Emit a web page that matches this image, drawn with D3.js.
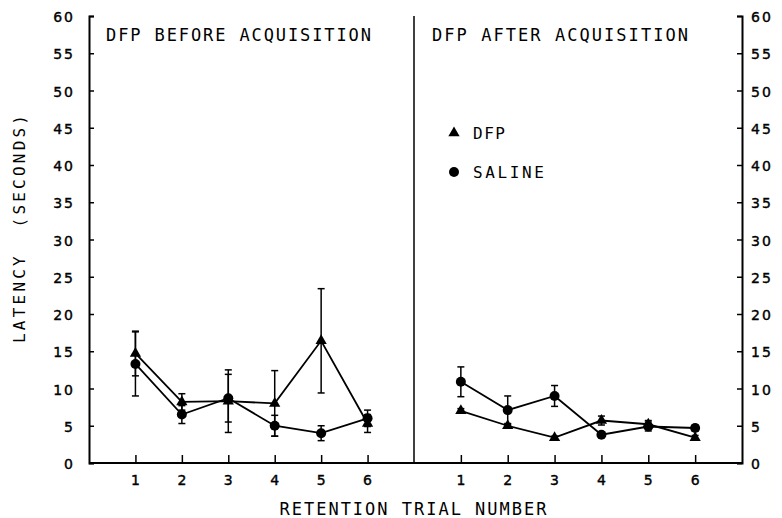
<!DOCTYPE html>
<html>
<head>
<meta charset="utf-8">
<script src="https://cdn.jsdelivr.net/npm/d3@7"></script>
<style>
  body { margin: 0; background: #fff; }
  svg text { fill: #000; }
</style>
</head>
<body>
<div id="chart"></div>
<script>
// retention trials 1..6
const trials = [1, 2, 3, 4, 5, 6];
const yTicks = [0, 5, 10, 15, 20, 25, 30, 35, 40, 45, 50, 55, 60];

// DFP before acquisition
const beforeDfp = [14.7, 8.2, 8.3, 8.0, 16.4, 5.3];
const beforeDfpErr = [3.0, 1.1, 4.2, 4.4, 7.0, 1.2];
const beforeSaline = [13.3, 6.5, 8.7, 5.0, 4.0, 6.0];
const beforeSalineErr = [4.3, 1.2, 3.2, 1.4, 1.0, 1.1];

// DFP after acquisition
const afterDfp = [7.0, 5.0, 3.4, 5.7, 5.2, 3.4];
const afterDfpErr = [0.3, 0.3, 0.2, 0.6, 0.5, 0.3];
const afterSaline = [10.9, 7.1, 9.0, 3.8, 4.9, 4.7];
const afterSalineErr = [2.0, 1.9, 1.4, 0.3, 0.6, 0.4];

const width = 782, height = 518;
const mLeft = 89, mMid = 414, mRight = 742, mTop = 16, mBottom = 463;
const mono = "'DejaVu Sans Mono', monospace";
const sans = "'DejaVu Sans', sans-serif";

const svg = d3.select("#chart").append("svg")
  .attr("width", width)
  .attr("height", height);

const y = d3.scaleLinear().domain([0, 60]).range([mBottom, mTop]);

const panels = [
  { title: "DFP BEFORE ACQUISITION", x: d3.scaleLinear().domain([0, 7]).range([mLeft, mMid]),
    dfp: beforeDfp, dfpErr: beforeDfpErr, sal: beforeSaline, salErr: beforeSalineErr },
  { title: "DFP AFTER ACQUISITION", x: d3.scaleLinear().domain([0, 7]).range([mMid, mRight]),
    dfp: afterDfp, dfpErr: afterDfpErr, sal: afterSaline, salErr: afterSalineErr }
];

// y axes, ticks pointing inward
const yl = svg.append("g")
  .attr("transform", `translate(${mLeft},0)`)
  .call(d3.axisRight(y).tickValues(yTicks).tickSize(5).tickFormat(""));
const yr = svg.append("g")
  .attr("transform", `translate(${mRight},0)`)
  .call(d3.axisLeft(y).tickValues(yTicks).tickSize(5).tickFormat(""));
[yl, yr].forEach(g => {
  g.select(".domain").attr("stroke-width", 2);
  g.selectAll(".tick line").attr("stroke-width", 1.5);
});

const tickText = sel => sel
  .attr("font-family", sans)
  .attr("font-size", 14)
  .attr("letter-spacing", 2)
  .attr("stroke", "#000")
  .attr("stroke-width", 0.4);

svg.append("g").selectAll("text")
  .data(yTicks)
  .join("text")
  .attr("x", 75)
  .attr("y", d => y(d) + 1)
  .attr("dy", "0.36em")
  .attr("text-anchor", "end")
  .call(tickText)
  .text(d => d);

svg.append("g").selectAll("text")
  .data(yTicks)
  .join("text")
  .attr("x", 751)
  .attr("y", d => y(d) + 1)
  .attr("dy", "0.36em")
  .call(tickText)
  .text(d => d);

// baseline and divider
svg.append("line")
  .attr("x1", mLeft).attr("x2", mRight)
  .attr("y1", y(0)).attr("y2", y(0))
  .attr("stroke", "#000").attr("stroke-width", 2);
svg.append("line")
  .attr("x1", mMid).attr("x2", mMid)
  .attr("y1", y(60)).attr("y2", y(0))
  .attr("stroke", "#000").attr("stroke-width", 1.5);

const tri = d3.symbol().type(d3.symbolTriangle).size(55);

panels.forEach((p, pi) => {
  const x = p.x;

  svg.append("g")
    .attr("transform", `translate(0,${mBottom})`)
    .call(d3.axisTop(x).tickValues(trials).tickSize(8).tickFormat(""))
    .call(g => g.select(".domain").remove())
    .call(g => g.selectAll(".tick line").attr("stroke-width", 1.5));

  svg.append("g").selectAll("text")
    .data(trials)
    .join("text")
    .attr("x", d => x(d))
    .attr("y", mBottom + 22)
    .attr("text-anchor", "middle")
    .call(tickText)
    .attr("letter-spacing", 0)
    .text(d => d);

  svg.append("text")
    .attr("x", x(0) + (pi === 0 ? 17 : 18))
    .attr("y", 41)
    .attr("font-family", mono)
    .attr("font-size", 17)
    .attr("textLength", pi === 0 ? 265 : 256)
    .attr("lengthAdjust", "spacing")
    .text(p.title);

  const series = [
    { v: p.sal, e: p.salErr, shape: "circle" },
    { v: p.dfp, e: p.dfpErr, shape: "tri" }
  ];

  series.forEach(s => {
    const pts = trials.map((t, i) => ({ t, v: s.v[i], e: s.e[i] }));

    svg.append("path")
      .datum(pts)
      .attr("fill", "none")
      .attr("stroke", "#000")
      .attr("stroke-width", 1.8)
      .attr("d", d3.line().x(d => x(d.t)).y(d => y(d.v)));

    const eb = svg.append("g").attr("stroke", "#000").attr("stroke-width", 1.5);
    eb.selectAll(".v").data(pts).join("line").attr("class", "v")
      .attr("x1", d => x(d.t)).attr("x2", d => x(d.t))
      .attr("y1", d => y(d.v - d.e)).attr("y2", d => y(d.v + d.e));
    eb.selectAll(".c1").data(pts).join("line").attr("class", "c1")
      .attr("x1", d => x(d.t) - 3.5).attr("x2", d => x(d.t) + 3.5)
      .attr("y1", d => y(d.v + d.e)).attr("y2", d => y(d.v + d.e));
    eb.selectAll(".c2").data(pts).join("line").attr("class", "c2")
      .attr("x1", d => x(d.t) - 3.5).attr("x2", d => x(d.t) + 3.5)
      .attr("y1", d => y(d.v - d.e)).attr("y2", d => y(d.v - d.e));

    if (s.shape === "circle") {
      svg.append("g").selectAll("circle").data(pts).join("circle")
        .attr("cx", d => x(d.t)).attr("cy", d => y(d.v))
        .attr("r", 5).attr("fill", "#000");
    } else {
      svg.append("g").selectAll("path").data(pts).join("path")
        .attr("transform", d => `translate(${x(d.t)},${y(d.v)})`)
        .attr("d", tri).attr("fill", "#000");
    }
  });
});

// legend
const legend = svg.append("g").attr("font-family", mono).attr("font-size", 16);
legend.append("path")
  .attr("transform", "translate(454,133)")
  .attr("d", tri).attr("fill", "#000");
legend.append("text").attr("x", 473).attr("y", 139)
  .attr("textLength", 32).attr("lengthAdjust", "spacing").text("DFP");
legend.append("circle").attr("cx", 454).attr("cy", 172).attr("r", 5).attr("fill", "#000");
legend.append("text").attr("x", 473).attr("y", 178)
  .attr("textLength", 71).attr("lengthAdjust", "spacing").text("SALINE");

// axis titles
svg.append("text")
  .attr("transform", `translate(25,229) rotate(-90)`)
  .attr("text-anchor", "middle")
  .attr("font-family", mono)
  .attr("font-size", 16)
  .attr("xml:space", "preserve")
  .attr("textLength", 228)
  .attr("lengthAdjust", "spacing")
  .text("LATENCY  (SECONDS)");

svg.append("text")
  .attr("x", 413)
  .attr("y", 515)
  .attr("text-anchor", "middle")
  .attr("font-family", mono)
  .attr("font-size", 17)
  .attr("textLength", 267)
  .attr("lengthAdjust", "spacing")
  .text("RETENTION TRIAL NUMBER");
</script>
</body>
</html>
